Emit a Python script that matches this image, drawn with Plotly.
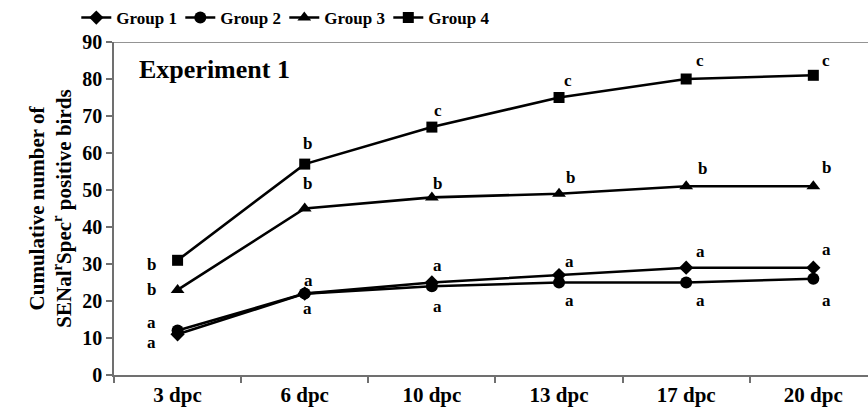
import plotly.graph_objects as go

# Sampling days post challenge
days = ["3 dpc", "6 dpc", "10 dpc", "13 dpc", "17 dpc", "20 dpc"]

# Cumulative number of positive birds per group
group1 = [11, 22, 25, 27, 29, 29]
group2 = [12, 22, 24, 25, 25, 26]
group3 = [23, 45, 48, 49, 51, 51]
group4 = [31, 57, 67, 75, 80, 81]

# Significance letters per group and day
letters1 = ["a", "a", "a", "a", "a", "a"]
letters2 = ["a", "a", "a", "a", "a", "a"]
letters3 = ["b", "b", "b", "b", "b", "b"]
letters4 = ["b", "b", "c", "c", "c", "c"]

names = ["Group 1", "Group 2", "Group 3", "Group 4"]
values = [group1, group2, group3, group4]
letters = [letters1, letters2, letters3, letters4]
symbols = ["diamond", "circle", "triangle-up", "square"]
sizes = [11, 12, 12, 11]

# Pixel offsets of each letter from its point (dx right, dy up)
letter_dx = [
    [-26, 4, 6, 10, 14, 13],
    [-26, 3, 6, 10, 14, 13],
    [-26, 3, 6, 11, 16, 13],
    [-26, 3, 6, 9, 14, 13],
]
letter_dy = [
    [12, 13, 17, 14, 16, 18],
    [-12, -15, -20, -18, -18, -22],
    [0, 25, 14, 16, 18, 19],
    [-4, 21, 17, 17, 19, 15],
]

FONT = "Liberation Serif, Times New Roman, serif"
GRAY = "#707070"

fig = go.Figure()
for name, vals, sym, sz in zip(names, values, symbols, sizes):
    fig.add_trace(go.Scatter(
        x=days, y=vals, name=name, mode="lines+markers",
        line=dict(color="black", width=2.6),
        marker=dict(symbol=sym, size=sz, color="black"),
    ))

annotations = []
for g, (vals, labs) in enumerate(zip(values, letters)):
    for i, (d, v, t) in enumerate(zip(days, vals, labs)):
        annotations.append(dict(
            x=d, y=v, xref="x", yref="y", text=t, showarrow=False,
            xshift=letter_dx[g][i], yshift=letter_dy[g][i],
            font=dict(size=17, family=FONT, color="black", weight="bold"),
        ))

annotations.append(dict(
    x=0.03, y=0.916, xref="paper", yref="paper", xanchor="left", yanchor="middle",
    text="Experiment 1", showarrow=False,
    font=dict(size=26, family=FONT, color="black", weight="bold"),
))

fig.update_layout(
    width=868, height=409,
    margin=dict(l=114, r=0, t=42, b=34, autoexpand=False),
    paper_bgcolor="white", plot_bgcolor="white",
    font=dict(family=FONT, size=20, color="black", weight="bold"),
    showlegend=True,
    legend=dict(
        orientation="h", x=-0.05, xanchor="left", y=1.0, yanchor="top",
        yref="container", entrywidth=59, entrywidthmode="pixels",
        font=dict(size=17, family=FONT, color="black", weight="bold"),
        bgcolor="rgba(0,0,0,0)", itemwidth=30,
    ),
    annotations=annotations,
    shapes=[dict(type="line", xref="paper", yref="y", x0=0, x1=1, y0=90, y1=90,
                 line=dict(color=GRAY, width=1.5))],
)

fig.update_xaxes(
    type="category", range=[-0.5, 5.43], showgrid=False, zeroline=False,
    showline=True, linecolor=GRAY, linewidth=1.5,
    ticks="outside", tickson="boundaries", ticklen=6, tickcolor=GRAY, tickwidth=1.5,
    tickfont=dict(size=21, family=FONT, color="black", weight="bold"),
    automargin=False,
)
fig.update_yaxes(
    range=[0, 90], dtick=10, showgrid=False, zeroline=False,
    showline=True, linecolor=GRAY, linewidth=1.5,
    ticks="outside", ticklen=6, tickcolor=GRAY, tickwidth=1.5,
    tickfont=dict(size=20, family=FONT, color="black", weight="bold"),
    title=dict(
        text="Cumulative number of<br>SENal<sup>r</sup>Spec<sup>r</sup> positive birds",
        font=dict(size=21, family=FONT, color="black", weight="bold"),
        standoff=5,
    ),
    automargin=False,
)

fig.write_html("out.html")
